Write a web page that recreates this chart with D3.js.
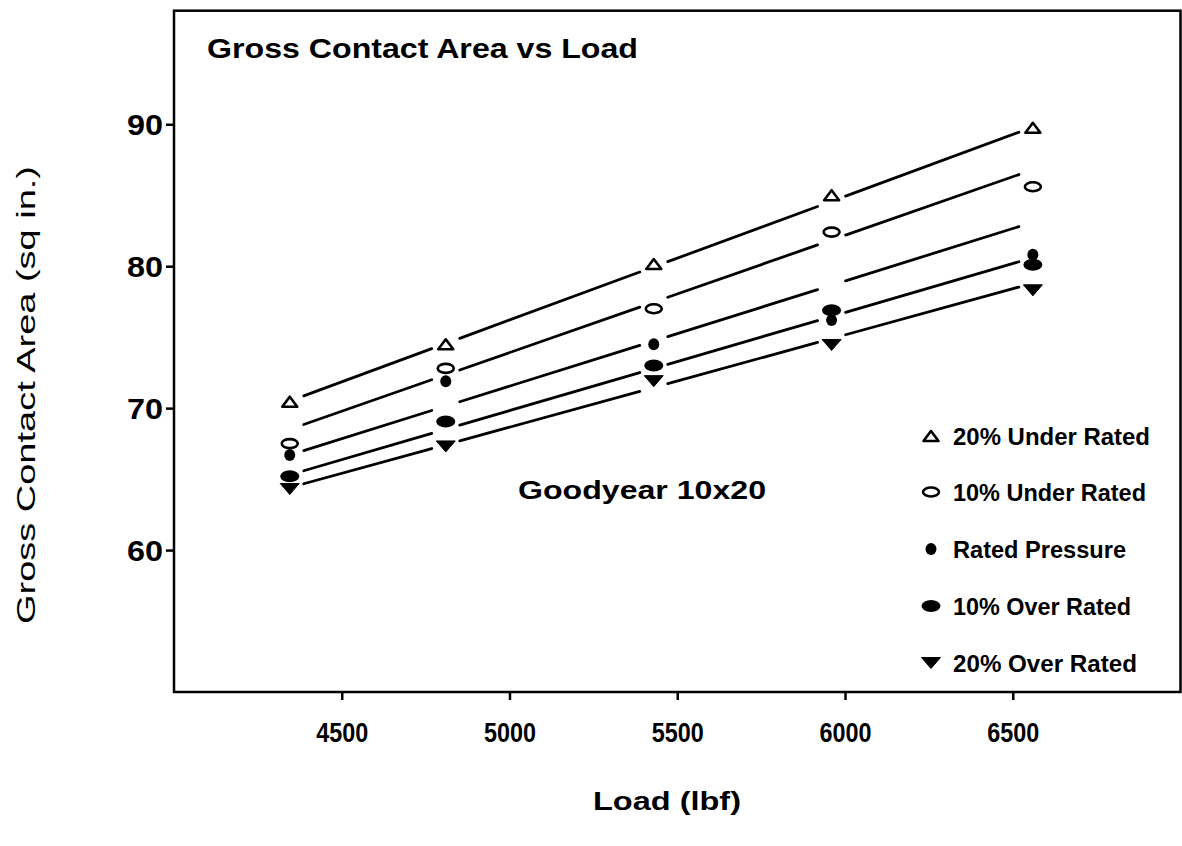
<!DOCTYPE html>
<html><head><meta charset="utf-8">
<script src="https://cdn.jsdelivr.net/npm/d3@7"></script>
<style>body{margin:0;background:#fff} svg{display:block}</style>
</head><body><svg id="c" width="1182" height="846"></svg>
<script>
// ---- data ----
const loads = [4345, 4810, 5430, 5960, 6560];
const seriesNames = ["20% Under Rated", "10% Under Rated", "Rated Pressure", "10% Over Rated", "20% Over Rated"];
const under20 = [70.45, 74.5, 80.15, 85.0, 89.75];
const under10 = [67.5, 72.8, 77.0, 82.4, 85.6];
const rated   = [66.7, 71.9, 74.5, 76.2, 80.8];
const over10  = [65.2, 69.05, 73.0, 76.9, 80.1];
const over20  = [64.3, 67.3, 71.9, 74.45, 78.3];
// fitted line values at the first and last load
const fitFirst = [70.5, 68.5, 66.7, 65.3, 64.4];
const fitLast  = [89.8, 86.8, 83.1, 80.6, 78.8];
const xTicks = [4500, 5000, 5500, 6000, 6500];
const yTicks = [60, 70, 80, 90];

const series = [under20, under10, rated, over10, over20];
const shapes = ["triUp", "ellOpen", "dot", "ellFill", "triDown"];

const svg = d3.select("#c");
const L = 174, R = 1180.5, T = 10.7, B = 692;
const x = d3.scaleLinear().domain([4000, 7000]).range([L, R]);
const y = d3.scaleLinear().domain([50, 98]).range([B, T]);
const FONT = "'Liberation Sans', Arial, sans-serif";

// axes
const gx = svg.append("g").attr("transform", `translate(0,${B})`)
  .call(d3.axisBottom(x).tickValues(xTicks).tickSize(8).tickPadding(22).tickFormat(d3.format("d")));
gx.select(".domain").remove();
gx.selectAll("line").attr("stroke", "#000").attr("stroke-width", 2.5);
gx.selectAll("text").attr("font-family", FONT).attr("font-weight", "bold").attr("font-size", 28)
  .attr("fill", "#000").attr("textLength", 52).attr("lengthAdjust", "spacingAndGlyphs");

const gy = svg.append("g").attr("transform", `translate(${L},0)`)
  .call(d3.axisLeft(y).tickValues(yTicks).tickSize(8).tickPadding(3));
gy.select(".domain").remove();
gy.selectAll("line").attr("stroke", "#000").attr("stroke-width", 2.5);
gy.selectAll("text").attr("font-family", FONT).attr("font-weight", "bold").attr("font-size", 30)
  .attr("fill", "#000").attr("dy", "0.35em").attr("textLength", 36).attr("lengthAdjust", "spacingAndGlyphs");

// frame
svg.append("rect").attr("x", L).attr("y", T).attr("width", R - L).attr("height", B - T)
  .attr("fill", "none").attr("stroke", "#000").attr("stroke-width", 2.5);

// fit lines, broken at each load column
const gap = 14;
series.forEach((s, i) => {
  const f = d3.scaleLinear().domain([loads[0], loads[loads.length - 1]]).range([fitFirst[i], fitLast[i]]);
  for (let j = 0; j < loads.length - 1; j++) {
    const a = x.invert(x(loads[j]) + gap), b = x.invert(x(loads[j + 1]) - gap);
    svg.append("line")
      .attr("x1", x(a)).attr("y1", y(f(a)))
      .attr("x2", x(b)).attr("y2", y(f(b)))
      .attr("stroke", "#000").attr("stroke-width", 2.8).attr("stroke-linecap", "round");
  }
});

function marker(g, shape, cx, cy) {
  if (shape === "triUp") {
    g.append("path").attr("d", `M${cx - 7.5},${cy + 5} L${cx + 7.5},${cy + 5} L${cx},${cy - 5} Z`)
      .attr("fill", "#fff").attr("stroke", "#000").attr("stroke-width", 2.6).attr("stroke-linejoin", "round");
  } else if (shape === "ellOpen") {
    g.append("ellipse").attr("cx", cx).attr("cy", cy).attr("rx", 8).attr("ry", 4.5)
      .attr("fill", "#fff").attr("stroke", "#000").attr("stroke-width", 2.6);
  } else if (shape === "dot") {
    g.append("ellipse").attr("cx", cx).attr("cy", cy).attr("rx", 5.5).attr("ry", 6).attr("fill", "#000");
  } else if (shape === "ellFill") {
    g.append("ellipse").attr("cx", cx).attr("cy", cy).attr("rx", 9.5).attr("ry", 6).attr("fill", "#000");
  } else if (shape === "triDown") {
    g.append("path").attr("d", `M${cx - 9.5},${cy - 5.5} L${cx + 9.5},${cy - 5.5} L${cx},${cy + 5.5} Z`)
      .attr("fill", "#000").attr("stroke", "#000").attr("stroke-width", 1).attr("stroke-linejoin", "round");
  }
}

const gm = svg.append("g");
series.forEach((s, i) => {
  s.forEach((v, j) => marker(gm, shapes[i], x(loads[j]), y(v)));
});

// titles
svg.append("text").attr("x", 207).attr("y", 58).text("Gross Contact Area vs Load")
  .attr("font-family", FONT).attr("font-weight", "bold").attr("font-size", 28)
  .attr("textLength", 431).attr("lengthAdjust", "spacingAndGlyphs");

svg.append("text").attr("x", 518).attr("y", 499).text("Goodyear 10x20")
  .attr("font-family", FONT).attr("font-weight", "bold").attr("font-size", 25)
  .attr("textLength", 248).attr("lengthAdjust", "spacingAndGlyphs");

svg.append("text").attr("transform", "translate(35,395) rotate(-90)").attr("text-anchor", "middle")
  .text("Gross Contact Area (sq in.)")
  .attr("font-family", FONT).attr("font-size", 25)
  .attr("textLength", 458).attr("lengthAdjust", "spacingAndGlyphs");

svg.append("text").attr("x", 593).attr("y", 810).text("Load (lbf)")
  .attr("font-family", FONT).attr("font-weight", "bold").attr("font-size", 25)
  .attr("textLength", 148).attr("lengthAdjust", "spacingAndGlyphs");

// legend
const legY = [436, 492, 549, 606, 663];
const legW = [197, 193, 173, 178, 184];
const gl = svg.append("g");
seriesNames.forEach((n, i) => {
  marker(gl, shapes[i], 931, legY[i]);
  gl.append("text").attr("x", 953).attr("y", legY[i] + 9).text(n)
    .attr("font-family", FONT).attr("font-weight", "bold").attr("font-size", 23)
    .attr("textLength", legW[i]).attr("lengthAdjust", "spacingAndGlyphs");
});
</script>
</body></html>
